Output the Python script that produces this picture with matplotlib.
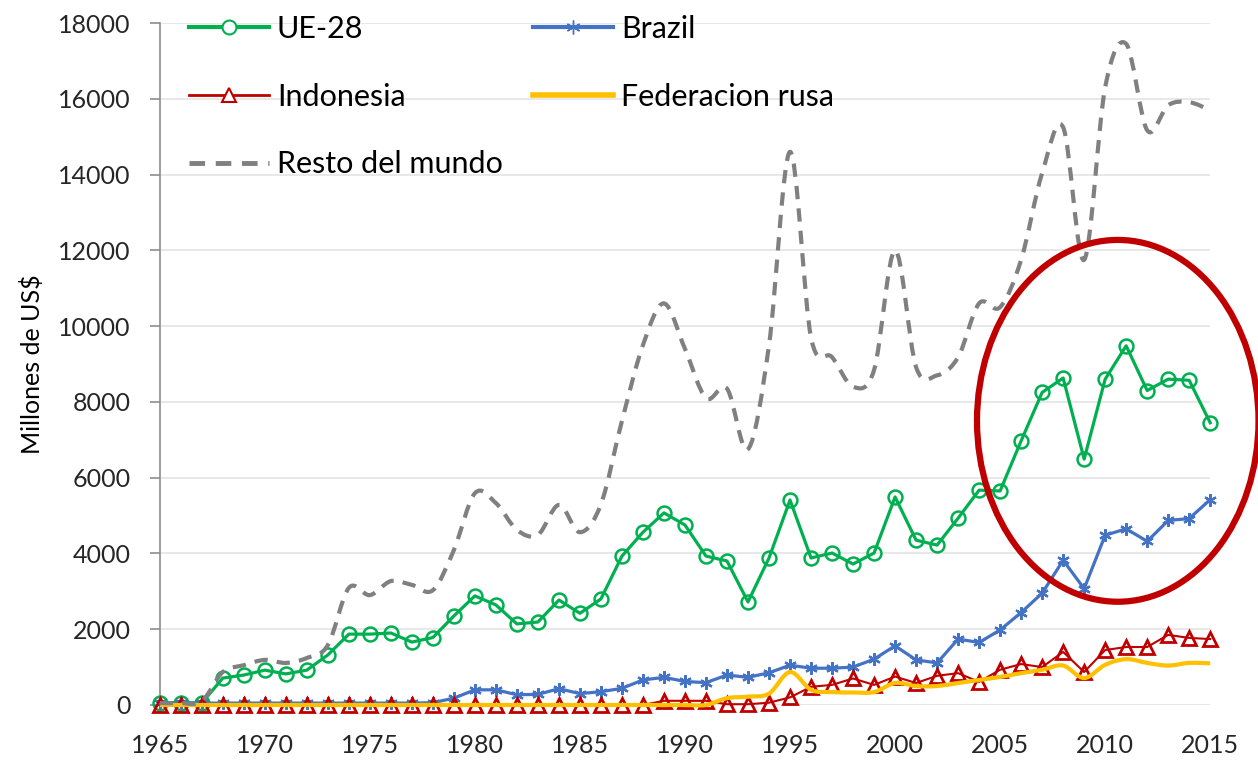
import numpy as np
import matplotlib
matplotlib.use("Agg")
import matplotlib.pyplot as plt
from matplotlib.path import Path
from matplotlib.patches import PathPatch, Ellipse
from matplotlib.lines import Line2D

plt.rcParams['font.family'] = ['Lato', 'DejaVu Sans']

# Years
years = list(range(1965, 2016))

# Values (millones de US$)
ue28 = [60, 60, 50, 710, 790, 920, 820, 920, 1320, 1870,
        1870, 1900, 1660, 1780, 2350, 2880, 2640, 2140, 2190, 2770,
        2420, 2800, 3930, 4560, 5070, 4750, 3930, 3800, 2720, 3880,
        5410, 3880, 4010, 3720, 4010, 5490, 4350, 4220, 4930, 5670,
        5650, 6970, 8250, 8630, 6490, 8600, 9480, 8300, 8600, 8570,
        7450]
brazil = [50, 50, 50, 50, 50, 50, 50, 50, 50, 50,
          50, 50, 50, 60, 180, 400, 400, 270, 280, 430,
          300, 350, 440, 660, 730, 620, 590, 790, 730, 850,
          1050, 970, 970, 1000, 1210, 1560, 1190, 1110, 1740, 1650,
          1980, 2440, 2950, 3820, 3070, 4480, 4650, 4320, 4870, 4920,
          5420]
indonesia = [0, 0, 0, 0, 0, 0, 0, 0, 0, 0,
             0, 0, 0, 0, 0, 0, 0, 0, 0, 0,
             0, 0, 0, 0, 110, 110, 110, 20, 20, 60,
             200, 480, 530, 700, 530, 750, 580, 770, 840, 610,
             930, 1080, 1000, 1400, 870, 1450, 1530, 1530, 1850, 1770,
             1740]
rusa = [0, 0, 0, 0, 0, 0, 0, 0, 0, 0,
        0, 0, 0, 0, 0, 0, 0, 0, 0, 0,
        0, 0, 0, 0, 0, 0, 0, 180, 220, 300,
        870, 400, 340, 330, 340, 580, 500, 500, 580, 660,
        740, 840, 930, 1040, 710, 1060, 1210, 1110, 1040, 1110,
        1100]
resto = [50, 50, 100, 870, 1050, 1190, 1110, 1240, 1580, 3090,
         2900, 3270, 3170, 3030, 4090, 5590, 5330, 4620, 4490, 5280,
         4560, 5300, 7500, 9500, 10600, 9400, 8100, 8350, 6750, 9500,
         14600, 9700, 9180, 8400, 8840, 12000, 8920, 8700, 9180, 10600,
         10500, 11750, 14040, 15250, 11750, 16300, 17450, 15170, 15830, 15910,
         15700]

names = ["UE-28", "Brazil", "Indonesia", "Federacion rusa", "Resto del mundo"]

c_green = "#00B050"
c_blue = "#4472C4"
c_red = "#C00000"
c_yellow = "#FFC000"
c_gray = "#808080"


def smooth_path(x, y):
    # Excel-like smoothed line: cubic bezier segments through every point
    n = len(x)
    verts = [(x[0], y[0])]
    codes = [Path.MOVETO]
    for i in range(n - 1):
        a = max(i - 1, 0)
        b = min(i + 2, n - 1)
        c1 = (x[i] + (x[i + 1] - x[a]) / 6, y[i] + (y[i + 1] - y[a]) / 6)
        c2 = (x[i + 1] - (x[b] - x[i]) / 6, y[i + 1] - (y[b] - y[i]) / 6)
        verts += [c1, c2, (x[i + 1], y[i + 1])]
        codes += [Path.CURVE4] * 3
    return Path(verts, codes)


fig = plt.figure(figsize=(12.58, 7.6), dpi=100)
ax = fig.add_axes([0.127, 0.0724, 0.835, 0.8973])

ax.plot(years, ue28, color=c_green, lw=2.3, marker="o", ms=10,
        mfc="none", mec=c_green, mew=1.8, zorder=3, clip_on=False)
ax.plot(years, brazil, color=c_blue, lw=2.3, marker=(6, 2, 0), ms=9,
        mec=c_blue, mew=1.6, zorder=4, clip_on=False)
ax.plot(years, indonesia, color=c_red, lw=1.5, marker="^", ms=10,
        mfc="none", mec=c_red, mew=2, zorder=5, clip_on=False)
ax.add_patch(PathPatch(smooth_path(years, rusa), fill=False, edgecolor=c_yellow,
                       lw=3, zorder=6, clip_on=False))
ax.add_patch(PathPatch(smooth_path(years, resto), fill=False, edgecolor=c_gray,
                       lw=3, linestyle=(0, (3.2, 2.2)), zorder=7, clip_on=False))

# red highlight ellipse
ax.add_patch(Ellipse((2010.6, 7500), 13.4, 9550, fill=False, edgecolor=c_red,
                     lw=4.5, zorder=8, clip_on=False))

ax.set_xlim(1965, 2015)
ax.set_ylim(0, 18000)
ax.set_xticks(range(1965, 2016, 5))
ax.set_yticks(range(0, 18001, 2000))
ax.grid(axis="y", color="#E4E4E4", lw=1.2, zorder=0)
ax.set_axisbelow(True)
for s in ["top", "right", "bottom"]:
    ax.spines[s].set_visible(False)
ax.spines["left"].set_color("#8C8C8C")
ax.spines["left"].set_linewidth(1.2)
ax.tick_params(axis="x", length=0, pad=21, labelsize=18, labelcolor="#262626")
ax.tick_params(axis="y", length=7, width=1.2, color="#8C8C8C", pad=14,
               labelsize=18, labelcolor="#262626")
ax.set_ylabel("Millones de US$", fontsize=18, color="black", labelpad=10)

handles = [
    Line2D([], [], color=c_green, lw=3, marker="o", ms=10, mfc="white", mec=c_green, mew=1.5),
    Line2D([], [], color=c_red, lw=2, marker="^", ms=10, mfc="white", mec=c_red, mew=1.5),
    Line2D([], [], color=c_gray, lw=3.5, linestyle=(0, (3.2, 2.2))),
    Line2D([], [], color=c_blue, lw=3, marker=(6, 2, 0), ms=10, mec=c_blue, mew=1),
    Line2D([], [], color=c_yellow, lw=4),
]
labels = [names[0], names[2], names[4], names[1], names[3]]
ax.legend(handles, labels, loc="upper left", bbox_to_anchor=(0.028, 1.012),
          ncol=2, frameon=False, fontsize=22, handlelength=2.6,
          handletextpad=0.27, labelspacing=1.3, columnspacing=1.0,
          borderpad=0, borderaxespad=0)

fig.savefig("out.png", dpi=100)
